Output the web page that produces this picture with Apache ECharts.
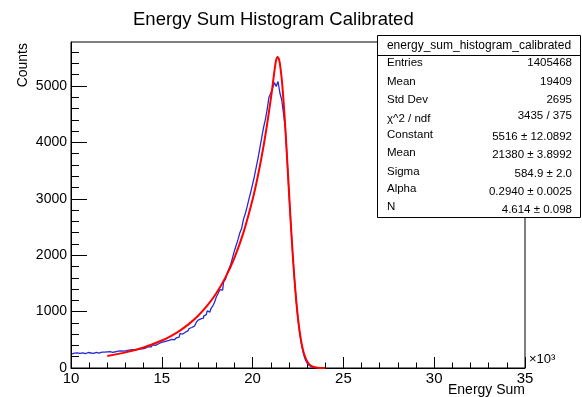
<!DOCTYPE html>
<html>
<head>
<meta charset="utf-8">
<script src="https://cdn.jsdelivr.net/npm/echarts@6/dist/echarts.min.js"></script>
<style>html,body{margin:0;padding:0;background:#fff}#c{width:582px;height:397px}</style>
</head>
<body>
<div id="c"></div>
<script>
// ---- data (x in units of 10^3) ----
const binLow = 10.0;      // first bin lower edge (x10^3)
const binWidth = 0.1;     // bin width (x10^3)
const counts10 = [250, 262, 255, 268, 258, 264, 270, 256, 262, 275];
const counts11 = [266, 272, 260, 278, 270, 265, 282, 274, 280, 286];
const counts12 = [284, 290, 279, 296, 288, 300, 294, 305, 298, 310];
const counts13 = [306, 318, 312, 325, 320, 334, 328, 340, 346, 338];
const counts14 = [352, 368, 378, 370, 392, 410, 402, 425, 440, 448];
const counts15 = [462, 458, 476, 488, 482, 506, 500, 522, 536, 548];
const counts16 = [608, 602, 634, 650, 662, 700, 718, 742, 770, 812];
const counts17 = [848, 872, 884, 920, 946, 1012, 990, 1050, 1096, 1160];
const counts18 = [1260, 1320, 1390, 1380, 1520, 1570, 1680, 1760, 1840, 1960];
const counts19 = [2080, 2180, 2280, 2400, 2480, 2640, 2740, 2860, 3000, 3120];
const counts20 = [3260, 3400, 3560, 3720, 3900, 4080, 4260, 4400, 4580, 4800];
const counts21 = [4870, 4960, 5060, 4990, 5080, 4880, 4760, 4520, 4250, 3700];
const counts22 = [3120, 2570, 2060, 1590, 1190, 860, 600, 400, 255, 150];
const counts23 = [85, 45, 22, 10, 5, 2, 0];

const fitX = [12, 13, 14, 15, 15.5, 16, 16.5, 17, 17.5, 18, 18.5, 19, 19.5, 20, 20.25, 20.5, 20.75, 21, 21.1, 21.2, 21.3, 21.38, 21.45, 21.5, 21.6, 21.7, 21.8, 21.9, 22, 22.1, 22.2, 22.3, 22.4, 22.5, 22.6, 22.7, 22.8, 22.9, 23, 23.1, 23.25, 23.5, 23.75, 24];
const fitY = [214, 277, 364, 487, 567, 664, 782, 926, 1104, 1325, 1602, 1954, 2404, 2987, 3341, 3749, 4220, 4763, 5005, 5261, 5465, 5516, 5477, 5401, 5140, 4749, 4262, 3715, 3144, 2584, 2062, 1600, 1204, 881, 628, 433, 290, 188, 119, 73, 33, 8, 1.5, 0.2];

const yMajorTicks = [0, 1000, 2000, 3000, 4000, 5000];
const yMinorTicks = [200, 400, 600, 800, 1200, 1400, 1600, 1800, 2200, 2400, 2600, 2800, 3200, 3400, 3600, 3800, 4200, 4400, 4600, 4800, 5200, 5400, 5600];

const statLabels = ['Entries', 'Mean', 'Std Dev', 'χ^2 / ndf', 'Constant', 'Mean', 'Sigma', 'Alpha', 'N'];
const statValues = ['1405468', '19409', '2695', '3435 / 375', '5516 ± 12.0892', '21380 ± 3.8992', '584.9 ± 2.0', '0.2940 ± 0.0025', '4.614 ± 0.098'];

// ---- build ----
const counts = [].concat(counts10, counts11, counts12, counts13, counts14, counts15, counts16, counts17, counts18, counts19, counts20, counts21, counts22, counts23);
const histData = counts.map((v, i) => [binLow + (i + 0.5) * binWidth, v]);
const fitData = fitX.map((x, i) => [x, fitY[i]]);

const FONT = 'Liberation Sans';
const graphics = [];
graphics.push({type: 'rect', shape: {x: 377.5, y: 35.5, width: 203, height: 182}, style: {fill: '#fff', stroke: '#000', lineWidth: 1}, z: 100});
graphics.push({type: 'line', shape: {x1: 377.5, y1: 55.5, x2: 580.5, y2: 55.5}, style: {stroke: '#000', lineWidth: 1}, z: 101});
graphics.push({type: 'text', x: 479, y: 45.5, style: {text: 'energy_sum_histogram_calibrated', font: '12px ' + FONT, fill: '#000', textAlign: 'center', textVerticalAlign: 'middle'}, z: 101});
const labY = [63, 82, 100, 119, 135, 153, 172, 189, 207];
const valY = [63, 82, 100, 116, 137, 155, 174, 192, 210];
statLabels.forEach((t, i) => {
  graphics.push({type: 'text', x: 387, y: labY[i], style: {text: t, font: '11.5px ' + FONT, fill: '#000', textAlign: 'left', textVerticalAlign: 'middle'}, z: 101});
  graphics.push({type: 'text', x: 572, y: valY[i], style: {text: statValues[i], font: '11.5px ' + FONT, fill: '#000', textAlign: 'right', textVerticalAlign: 'middle'}, z: 101});
});
graphics.push({type: 'text', x: 529, y: 359, style: {text: '×10³', font: '13px ' + FONT, fill: '#000', textAlign: 'left', textVerticalAlign: 'middle'}});
graphics.push({type: 'text', x: 525, y: 390, style: {text: 'Energy Sum', font: '14px ' + FONT, fill: '#000', textAlign: 'right', textVerticalAlign: 'middle'}});
graphics.push({type: 'text', x: 23, y: 43, rotation: Math.PI / 2, style: {text: 'Counts', font: '14px ' + FONT, fill: '#000', textAlign: 'right', textVerticalAlign: 'middle'}});

const chart = echarts.init(document.getElementById('c'), null, {renderer: 'canvas'});
chart.setOption({
  animation: false,
  backgroundColor: '#fff',
  title: {text: 'Energy Sum Histogram Calibrated', left: 128, top: 5, textStyle: {fontFamily: FONT, fontSize: 18.5, fontWeight: 'normal', color: '#000'}},
  grid: {left: 71, right: 57, top: 42, bottom: 29, show: true, borderColor: '#000', borderWidth: 1, backgroundColor: 'transparent'},
  xAxis: {
    type: 'value', min: 10, max: 35, interval: 5,
    axisLine: {show: true, onZero: false, lineStyle: {color: '#000', width: 1}},
    axisTick: {show: true, inside: true, length: 11, lineStyle: {color: '#000'}},
    minorTick: {show: true, splitNumber: 5, length: 5.5, lineStyle: {color: '#000'}},
    axisLabel: {color: '#000', fontFamily: FONT, fontSize: 15, margin: 3},
    splitLine: {show: false}
  },
  yAxis: [{
    type: 'value', min: 0, max: 5780, position: 'left',
    axisLine: {show: true, onZero: false, lineStyle: {color: '#000', width: 1}},
    axisTick: {show: true, inside: true, length: 16, customValues: yMajorTicks, lineStyle: {color: '#000'}},
    axisLabel: {color: '#000', fontFamily: FONT, fontSize: 14, margin: 4, customValues: yMajorTicks, formatter: v => String(v)},
    splitLine: {show: false}
  }, {
    type: 'value', min: 0, max: 5780, position: 'left', offset: 0,
    axisLine: {show: false},
    axisTick: {show: true, inside: true, length: 8, customValues: yMinorTicks, lineStyle: {color: '#000'}},
    axisLabel: {show: false},
    splitLine: {show: false}
  }],
  series: [{
    type: 'line', data: histData, step: 'middle', showSymbol: false, yAxisIndex: 0,
    lineStyle: {color: '#2828d0', width: 1.3}, z: 2
  }, {
    type: 'line', data: fitData, smooth: 0.3, showSymbol: false, yAxisIndex: 0,
    lineStyle: {color: '#ff0000', width: 2}, z: 3
  }],
  graphic: graphics
});
</script>
</body>
</html>
